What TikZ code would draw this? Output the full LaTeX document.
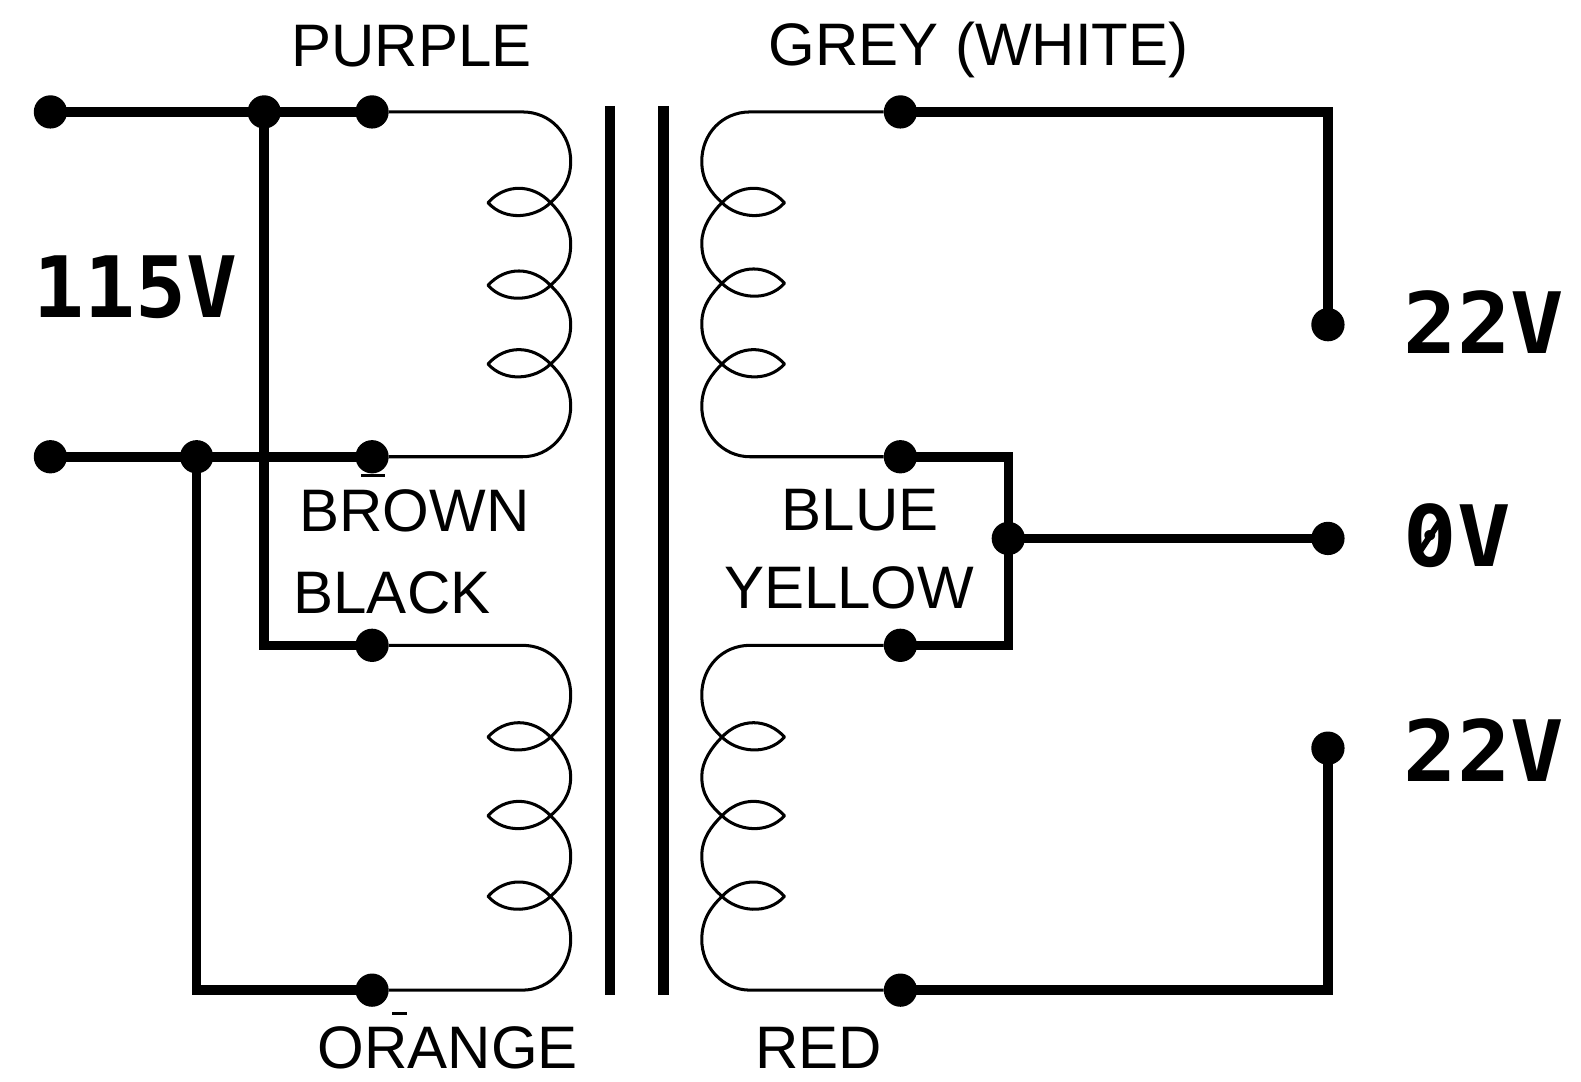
\documentclass[tikz,border=0pt]{standalone}
\usepackage{fontspec}
\setmainfont{Liberation Sans}
\newfontfamily\voltfont{DejaVu Sans Mono}
\newfontfamily\voltwide[FakeStretch=1.05]{DejaVu Sans Mono}
\tikzset{
  x=1pt,y=-1pt,
  dotnode/.style={circle,fill=black,draw=none,minimum size=33pt,inner sep=0pt},
  thickwire/.style={line width=9.5pt,line cap=butt,line join=miter,shorten <=-6pt,shorten >=-6pt},
  thinwire/.style={line width=3pt,line join=round},
  corebar/.style={line width=10pt},
  wirelabel/.style={anchor=base west,inner sep=0pt,font=\fontsize{59.5}{60}\selectfont},
  voltlabel/.style={anchor=base west,inner sep=0pt,font=\voltfont\bfseries\fontsize{84}{86}\selectfont},
  widevolt/.style={anchor=base west,inner sep=0pt,font=\voltwide\bfseries\fontsize{84}{86}\selectfont},
}
\newcommand{\lensloop}[1]{%
  .. controls (-100,#1+15) and (-130,#1+19) .. (-147,#1)
  .. controls (-130,#1-19) and (-103,#1-19) .. (-85,#1)}
\newcommand{\coilwinding}[8]{%
  \begin{scope}[shift={(631,0)},xscale=#1]
    \draw[thinwire] (#2) -- (-113,#3)
      .. controls (-85,#3) and (-65,#3+22) .. (-65,#3+49)
      .. controls (-65,#4-22) and (-74,#4-10) .. (-85,#4)
      \lensloop{#4}
      .. controls (-75,#4+10) and (-65,#4+24) .. (-65,{(#4+#5)/2})
      .. controls (-65,#5-20) and (-74,#5-10) .. (-85,#5)
      \lensloop{#5}
      .. controls (-75,#5+10) and (-65,#5+22) .. (-65,{(#5+#6)/2})
      .. controls (-65,#6-20) and (-74,#6-10) .. (-85,#6)
      \lensloop{#6}
      .. controls (-75,#6+10) and (-65,#6+22) .. (-65,#7-50)
      .. controls (-65,#7-24) and (-85,#7) .. (-113,#7) -- (#8);
  \end{scope}}
\begin{document}
\begin{tikzpicture}
\useasboundingbox (0,0) rectangle (1568,1073);
\fill[white] (0,0) rectangle (1568,1073);

% dots, left
\node[dotnode] (inA) at (50,111) {};
\node[dotnode] (juncA) at (262,111) {};
\node[dotnode] (purple) at (369,111) {};
\node[dotnode] (inB) at (50,453) {};
\node[dotnode] (juncB) at (195,453) {};
\node[dotnode] (brown) at (369,453) {};
\node[dotnode] (black) at (369,640) {};
\node[dotnode] (orange) at (369,982) {};
% dots, right
\node[dotnode] (grey) at (893,111) {};
\node[dotnode] (blue) at (893,453) {};
\node[dotnode] (yellow) at (893,640) {};
\node[dotnode] (red) at (893,982) {};
\node[dotnode] (outTop) at (1317,322) {};
\node[dotnode] (juncC) at (1000,534) {};
\node[dotnode] (outMid) at (1317,534) {};
\node[dotnode] (outBot) at (1317,742) {};

% thick wires
\draw[thickwire] (inA) -- (purple);
\draw[thickwire] (inB) -- (brown);
\draw[thickwire] (juncA) -- (juncA |- black) -- (black);
\draw[thickwire] (juncB) -- (juncB |- orange) -- (orange);
\draw[thickwire] (grey) -- (outTop |- grey) -- (outTop);
\draw[thickwire] (blue) -- (juncC |- blue) -- (juncC |- yellow) -- (yellow);
\draw[thickwire] (juncC) -- (outMid);
\draw[thickwire] (red) -- (outBot |- red) -- (outBot);

% core
\coordinate (barAtop) at (605,105);
\coordinate (barAbot) at (605,987);
\coordinate (barBtop) at (658,105);
\coordinate (barBbot) at (658,987);
\draw[corebar] (barAtop) -- (barAbot);
\draw[corebar] (barBtop) -- (barBbot);

% windings
\coilwinding{1}{purple}{111}{201}{283}{361}{453}{brown}
\coilwinding{1}{black}{640}{731}{809}{889}{982}{orange}
\coilwinding{-1}{grey}{111}{201}{281}{361}{453}{blue}
\coilwinding{-1}{yellow}{640}{731}{809}{889}{982}{red}

% small marks
\fill (358,470) rectangle (382,473.5);
\fill (389,1004) rectangle (404,1007);

% labels
\node[wirelabel] (lPurple) at (289,66) {PURPLE};
\node[wirelabel] (lGrey) at (762,65) {GREY (WHITE)};
\node[wirelabel] (lBrown) at (297,527) {BROWN};
\node[wirelabel] (lBlack) at (291,608) {BLACK};
\node[wirelabel] (lBlue) at (775,526) {BLUE};
\node[wirelabel] (lYellow) at (718,603) {YELLOW};
\node[wirelabel] (lOrange) at (315,1060) {ORANGE};
\node[wirelabel] (lRed) at (749,1060) {RED};
\node[voltlabel] (v115) at (33,315) {115V};
\node[widevolt] (v22a) at (1392,351) {22V};
\node[widevolt] (v0) at (1392,562) {0V};
\node[widevolt] (v22b) at (1392,775) {22V};
\draw[line width=6pt] (1408,547) -- (1428,517);
\end{tikzpicture}
\end{document}
